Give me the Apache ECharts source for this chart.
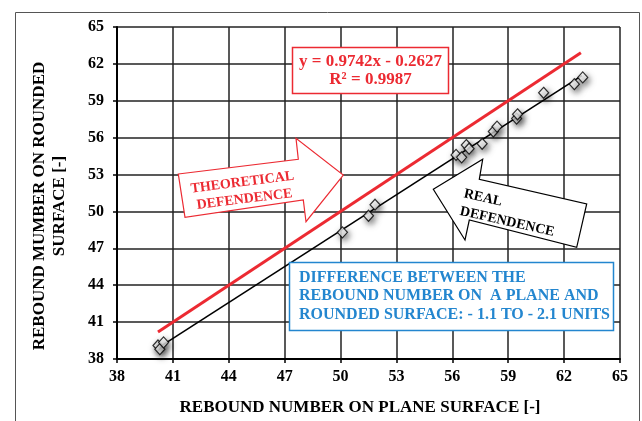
<!DOCTYPE html>
<html>
<head>
<meta charset="utf-8">
<script src="https://cdn.jsdelivr.net/npm/echarts@6/dist/echarts.min.js"></script>
<style>
html,body{margin:0;padding:0;background:#fff;}
#chart{width:642px;height:421px;}
</style>
</head>
<body>
<div id="chart"></div>
<script>
// ---- data ----
var axisTicks = [38, 41, 44, 47, 50, 53, 56, 59, 62, 65];
var planeValues   = [40.2, 40.3, 40.5, 50.1, 51.5, 51.85, 56.2, 56.5, 56.75, 56.9, 57.6, 58.2, 58.4, 59.45, 59.5, 60.9, 62.55, 63.0];
var roundedValues = [39.1, 38.8, 39.35, 48.3, 49.65, 50.55, 54.6, 54.4, 55.4, 55.1, 55.5, 56.5, 56.9, 57.55, 57.9, 59.65, 60.35, 60.9];
var theoreticalX = [40.2, 62.9];
var theoreticalY = [40.2, 62.9];
var trendX = [40.15, 62.95];
var trendY = [38.85, 61.05];
var equationText = ['y = 0.9742x - 0.2627', 'R\u00b2 = 0.9987'];
var xTitle = 'REBOUND NUMBER ON PLANE SURFACE [-]';
var yTitle = ['REBOUND MUMBER ON ROUNDED', 'SURFACE [-]'];
var noteText = ['DIFFERENCE BETWEEN THE', 'REBOUND NUMBER ON  A PLANE AND', 'ROUNDED SURFACE: - 1.1 TO - 2.1 UNITS'];

function zip(a, b) { return a.map(function (v, i) { return [v, b[i]]; }); }

var FONT = '"Liberation Serif", "Times New Roman", serif';
var RED = '#ec2a32';
var BLUE = '#2386cf';

var chart = echarts.init(document.getElementById('chart'), null, {renderer: 'canvas'});

var axisCommon = {
  type: 'value', min: 38, max: 65, interval: 3,
  axisLine: {show: true, onZero: false, lineStyle: {color: '#000', width: 2}},
  axisTick: {show: true, inside: false, length: 4, lineStyle: {color: '#000', width: 1.5}},
  splitLine: {show: true, lineStyle: {color: '#222', width: 1.5}},
  axisLabel: {color: '#000', fontFamily: FONT, fontWeight: 'bold', fontSize: 16}
};

var option = {
  animation: false,
  backgroundColor: '#fff',
  grid: {left: 117, right: 22, top: 27, bottom: 62, containLabel: false},
  xAxis: Object.assign({}, axisCommon, {
    axisLabel: Object.assign({}, axisCommon.axisLabel, {margin: 10})
  }),
  yAxis: Object.assign({}, axisCommon, {
    axisLabel: Object.assign({}, axisCommon.axisLabel, {margin: 13})
  }),
  series: [
    {
      type: 'line', data: zip(theoreticalX, theoreticalY), symbol: 'none',
      lineStyle: {color: RED, width: 3}, z: 3
    },
    {
      type: 'line', data: zip(trendX, trendY), symbol: 'none',
      lineStyle: {color: '#000', width: 1.6}, z: 3
    },
    {
      type: 'scatter', data: zip(planeValues, roundedValues),
      symbol: 'diamond', symbolSize: [10, 11],
      itemStyle: {
        color: '#fff', borderColor: '#000', borderWidth: 1.2,
        shadowBlur: 6, shadowColor: 'rgba(0,0,0,0.65)', shadowOffsetX: 2, shadowOffsetY: 3
      },
      z: 4
    }
  ],
  graphic: [
    // outer frame
    {type: 'rect', shape: {x: 15.5, y: 12.5, width: 624, height: 430},
     style: {fill: 'none', stroke: '#555', lineWidth: 1}, z: 0, silent: true},
    // equation box
    {type: 'rect', shape: {x: 292.5, y: 47.5, width: 156, height: 46},
     style: {fill: '#fff', stroke: RED, lineWidth: 1.5}, z: 10},
    {type: 'text', x: 370.5, y: 71, z: 11,
     style: {text: equationText.join('\n'), fill: RED, font: 'bold 17px ' + FONT,
             align: 'center', verticalAlign: 'middle', lineHeight: 18}},
    // theoretical arrow
    {type: 'polygon', z: 10,
     shape: {points: [[178.3, 174], [298.3, 159.3], [296, 138.3], [343.3, 175], [306, 221.7], [303.3, 200], [185, 217.3]]},
     style: {fill: '#fff', stroke: RED, lineWidth: 1.2}},
    {type: 'text', x: 243.5, y: 191, rotation: 0.125, z: 11,
     style: {text: 'THEORETICAL\nDEFENDENCE', fill: RED, font: 'bold 14px ' + FONT,
             align: 'center', verticalAlign: 'middle', lineHeight: 17}},
    // real arrow
    {type: 'polygon', z: 10,
     shape: {points: [[433.3, 189.3], [482.7, 159.3], [479.3, 179.3], [586.7, 204], [576.7, 247.3], [469.3, 220], [465, 240]]},
     style: {fill: '#fff', stroke: '#000', lineWidth: 1.2}},
    {type: 'text', x: 466, y: 185, rotation: -0.22, z: 11,
     style: {text: 'REAL\nDEFENDENCE', fill: '#000', font: 'bold 14px ' + FONT,
             align: 'left', verticalAlign: 'top', lineHeight: 18}},
    // note box
    {type: 'rect', shape: {x: 289.5, y: 262.5, width: 324, height: 68},
     style: {fill: '#fff', stroke: BLUE, lineWidth: 1.5}, z: 10},
    {type: 'text', x: 299, y: 296, z: 11,
     style: {text: noteText.join('\n'), fill: BLUE, font: 'bold 16px ' + FONT,
             align: 'left', verticalAlign: 'middle', lineHeight: 18.5}},
    // axis titles
    {type: 'text', x: 360, y: 408, z: 11,
     style: {text: xTitle, fill: '#000', font: 'bold 17px ' + FONT,
             align: 'center', verticalAlign: 'middle'}},
    {type: 'text', x: 50, y: 206, rotation: Math.PI / 2, z: 11,
     style: {text: yTitle.join('\n'), fill: '#000', font: 'bold 17px ' + FONT,
             align: 'center', verticalAlign: 'middle', lineHeight: 20}}
  ]
};
chart.setOption(option);
</script>
</body>
</html>
